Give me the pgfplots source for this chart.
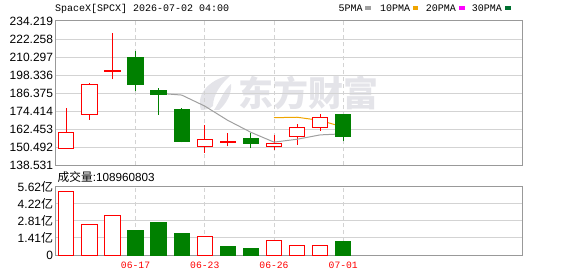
\documentclass[border=0pt]{standalone}
\usepackage{pgfplots}
\usepackage{pgfplotstable}
\pgfplotsset{compat=1.18}
\usepackage{fontspec}
\setmainfont{Liberation Sans}
\newfontfamily\cjk{Noto Sans CJK SC}
\newfontfamily\mono{Liberation Mono}
\definecolor{upred}{RGB}{255,0,0}
\definecolor{dngreen}{RGB}{0,128,0}
\definecolor{gridc}{RGB}{211,211,211}
\definecolor{borderc}{RGB}{153,153,153}
\definecolor{ma5}{RGB}{160,160,160}
\definecolor{ma10}{RGB}{240,165,0}
\definecolor{ma20}{RGB}{255,0,255}
\definecolor{ma30}{RGB}{0,112,48}
\definecolor{wm}{RGB}{228,228,233}
% day, open, high, low, close
\pgfplotstableread{
x o h l c
0 150.0 176.4 149.4 160.3
1 172.2 193.0 168.6 192.2
2 200.9 226.4 195.5 201.5
6 151.0 165.3 147.0 155.6
7 153.8 160.0 151.0 154.3
9 151.0 158.5 149.0 152.9
10 157.6 165.8 152.3 163.6
11 163.6 172.4 161.6 170.4
}\upcandles
\pgfplotstableread{
x o h l c
3 210.1 214.3 187.5 191.9
4 188.2 189.7 172.2 185.4
5 175.7 176.4 153.8 154.5
8 156.3 160.0 150.0 152.7
12 172.0 172.0 154.7 157.6
}\dncandles
% candle body: width 15.3pt, height \bh pt (set per point)
\pgfdeclareplotmark{candlebody}{%
  \pgfpathrectangle{\pgfpoint{-7.65pt}{-0.5*\bh pt}}{\pgfpoint{15.3pt}{\bh pt}}%
  \pgfusepathqfillstroke}
\pgfplotsset{
  chartbase/.style={
    scale only axis, width=466.6pt,
    xmin=-0.46, xmax=19.76,
    axis line style={borderc, line width=1pt},
    major tick length=0pt,
    xmajorgrids, ymajorgrids,
    x grid style={gridc, line width=1pt, dash pattern=on 4pt off 3pt},
    y grid style={gridc, line width=1pt},
    xtick={3,6,9,12},
    yticklabel style={font=\fontsize{12}{12}\selectfont, anchor=east, inner sep=0pt, xshift=-2.4pt},
  },
}
\begin{document}
\begin{tikzpicture}[x=1pt,y=1pt]
\useasboundingbox (0,0) rectangle (578,276);
% watermark
\fill[wm] (201,166) .. controls (195,184) and (213,198) .. (231,201) .. controls (221,192) and (213,182) .. (213,170) .. controls (210,167) and (205,166) .. (201,166) -- cycle;
\fill[wm] (214,166) .. controls (220,175) and (224,186) .. (231,192) .. controls (232,182) and (226,172) .. (219,166) -- cycle;
\node[text=wm, font=\cjk\bfseries\fontsize{35}{35}\selectfont, anchor=center, inner sep=0pt] at (308.5,183.5) {东方财富};
% title and legend
\node[anchor=west, inner sep=0pt, font=\mono\fontsize{10}{10}\selectfont] at (55,267) {SpaceX[SPCX] 2026-07-02 04:00};
\node[anchor=west, inner sep=0pt, font=\mono\fontsize{10}{10}\selectfont] at (338.3,267.5) {5PMA};
\fill[ma5] (365.3,266.2) rectangle (370.7,269.5);
\node[anchor=west, inner sep=0pt, font=\mono\fontsize{10}{10}\selectfont] at (380,267.5) {10PMA};
\fill[ma10] (413,266.2) rectangle (418.4,269.5);
\node[anchor=west, inner sep=0pt, font=\mono\fontsize{10}{10}\selectfont] at (425.7,267.5) {20PMA};
\fill[ma20] (459.3,266.2) rectangle (464.7,269.5);
\node[anchor=west, inner sep=0pt, font=\mono\fontsize{10}{10}\selectfont] at (471.7,267.5) {30PMA};
\fill[ma30] (505.3,266.2) rectangle (510.7,269.5);
% volume label
\node[anchor=west, inner sep=0pt, font=\fontsize{11.7}{12}\selectfont] at (57.5,98.7) {{\cjk 成交量}:108960803};

\begin{axis}[chartbase, at={(55.7pt,110.7pt)}, anchor=south west, height=144.3pt,
  ymin=138.531, ymax=234.219,
  ytick={138.531,150.492,162.453,174.414,186.375,198.336,210.297,222.258,234.219},
  yticklabels={138.531,150.492,162.453,174.414,186.375,198.336,210.297,222.258,234.219},
  xticklabels={}]
% wicks (low to high)
\addplot[draw=none, mark=none, error bars/.cd, y dir=plus, y explicit, error mark=none,
  error bar style={draw=upred, solid, line width=1pt}]
  table[x=x, y=l, y error expr=\thisrow{h}-\thisrow{l}] {\upcandles};
\addplot[draw=none, mark=none, error bars/.cd, y dir=plus, y explicit, error mark=none,
  error bar style={draw=dngreen, solid, line width=1pt}]
  table[x=x, y=l, y error expr=\thisrow{h}-\thisrow{l}] {\dncandles};
% bodies (open to close); 1.50803 pt per unit on this axis
\addplot[only marks, mark=candlebody, mark options={draw=upred, fill=white, line width=1pt, solid},
  visualization depends on={1.50803*abs(\thisrow{c}-\thisrow{o}) \as \bh}]
  table[x=x, y expr=(\thisrow{o}+\thisrow{c})/2] {\upcandles};
\addplot[only marks, mark=candlebody, mark options={draw=dngreen, fill=dngreen, line width=1pt, solid},
  visualization depends on={1.50803*abs(\thisrow{c}-\thisrow{o}) \as \bh}]
  table[x=x, y expr=(\thisrow{o}+\thisrow{c})/2] {\dncandles};
% moving averages
\addplot[ma5, line width=1pt, mark=none] coordinates {(4,186.3) (5,185.1) (6,177.8) (7,168.3) (8,160.4) (9,153.9) (10,155.8) (11,158.7) (12,159.4)};
\addplot[ma10, line width=1pt, mark=none] coordinates {(9,170.1) (10,170.4) (11,168.3) (12,163.9)};
\end{axis}

\begin{axis}[chartbase, at={(55.7pt,21pt)}, anchor=south west, height=68.3pt,
  ymin=0, ymax=5.62,
  ytick={0,1.405,2.81,4.215,5.62},
  yticklabels={0,1.41{\cjk 亿},2.81{\cjk 亿},4.22{\cjk 亿},5.62{\cjk 亿}},
  xticklabels={06-17,06-23,06-26,07-01},
  xticklabel style={font=\mono\fontsize{9.7}{10}\selectfont, text=upred, inner sep=0pt, yshift=-6.5pt}]
\addplot[ybar, bar width=15.3pt, bar shift=0pt, draw=upred, fill=white, line width=1pt] coordinates {(0,5.20) (1,2.52) (2,3.26) (6,1.50) (9,1.21) (10,0.80) (11,0.80)};
\addplot[ybar, bar width=15.3pt, bar shift=0pt, draw=dngreen, fill=dngreen, line width=1pt] coordinates {(3,2.03) (4,2.71) (5,1.73) (7,0.72) (8,0.55) (12,1.09)};
\end{axis}
\end{tikzpicture}
\end{document}
